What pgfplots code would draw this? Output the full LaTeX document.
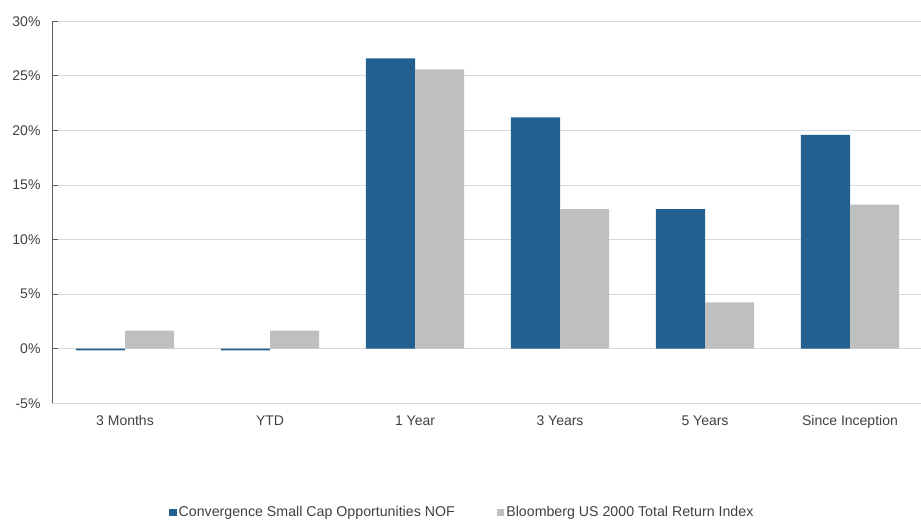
\documentclass[border=0pt]{standalone}
\usepackage{pgfplots}
\pgfplotsset{compat=1.18}
\usepackage{fontspec}
\setmainfont{Liberation Sans}
\definecolor{nof}{HTML}{22608F}
\definecolor{bbg}{HTML}{BFBFBF}
\definecolor{txt}{HTML}{404040}
\definecolor{grd}{HTML}{D9D9D9}
\definecolor{axl}{HTML}{5F5F5F}
\begin{document}
\begin{tikzpicture}
\begin{axis}[
 at={(52.5bp,117.7bp)}, anchor=south west,
 scale only axis, width=870bp, height=382bp,
 xmin=-0.5, xmax=5.5, ymin=-5, ymax=30,
 ybar=0pt, bar width=0.338,
 xtick={0,...,5}, xticklabels={3 Months,YTD,1 Year,3 Years,5 Years,Since Inception},
 ytick={-5,0,...,30}, yticklabels={-5\%,0\%,5\%,10\%,15\%,20\%,25\%,30\%},
 ymajorgrids, grid style={grd, line width=1bp},
 axis x line*=bottom, axis y line*=left,
 x axis line style={grd,line width=1bp,-},
 y axis line style={axl,line width=1bp,-},
 xtick style={draw=none},
 ytick style={axl, line width=1bp}, tick align=inside, major tick length=5bp,
 tick label style={font=\fontsize{14bp}{17bp}\selectfont, text=txt},
 yticklabel style={xshift=-8.5bp},
 xticklabel style={text height=10.2bp, text depth=3bp, yshift=-8bp},
 legend style={at={(0.471,-0.2855)}, anchor=center, legend columns=2, draw=none, fill=none,
   font=\fontsize{14.2bp}{16bp}\selectfont, text=txt,
   /tikz/every even column/.append style={column sep=40bp}},
 legend image code/.code={\fill[#1] (0bp,-3.5bp) rectangle (7.5bp,3.5bp);},
]
\addplot[fill=nof, draw=none] coordinates {(0,-0.15) (1,-0.15) (2,26.6) (3,21.2) (4,12.8) (5,19.6)};
\addplot[fill=bbg, draw=none] coordinates {(0,1.65) (1,1.65) (2,25.6) (3,12.8) (4,4.25) (5,13.2)};
\legend{Convergence Small Cap Opportunities NOF, Bloomberg US 2000 Total Return Index}
\end{axis}
\pgfresetboundingbox
\path[use as bounding box] (0bp,0bp) rectangle (921bp,521bp);
\end{tikzpicture}
\end{document}
